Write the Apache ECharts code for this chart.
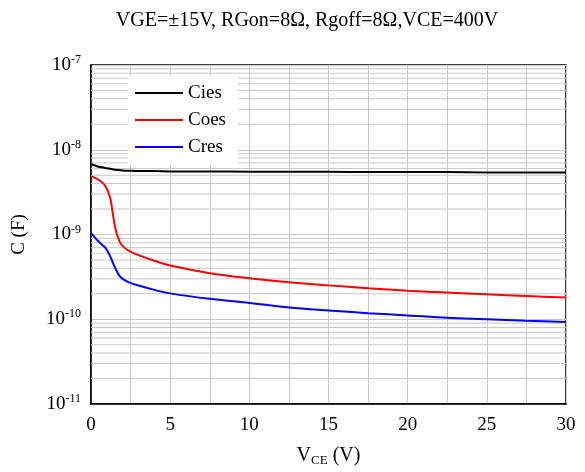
<!DOCTYPE html>
<html>
<head>
  <meta charset="UTF-8">
  <title>Capacitance vs VCE</title>
  <script src="https://cdn.jsdelivr.net/npm/echarts@6/dist/echarts.min.js"></script>
  <style>
    html, body { margin: 0; padding: 0; background: #fff; }
    #chart { width: 585px; height: 472px; }
  </style>
</head>
<body>
  <div id="chart"></div>
  <script>
    // VCE (V) sample points
    const vce = [0, 0.5, 0.9, 1.2, 1.35, 1.55, 1.8, 2.0, 2.4, 3, 4, 5, 7.5, 10, 12.5, 15, 17.5, 20, 22.5, 25, 27.5, 30];
    // capacitances (F)
    const cies = [6.8e-9, 6.3e-9, 6.1e-9, 5.95e-9, 5.9e-9, 5.8e-9, 5.75e-9, 5.7e-9, 5.65e-9, 5.6e-9, 5.6e-9, 5.55e-9,
      5.55e-9, 5.5e-9, 5.5e-9, 5.5e-9, 5.45e-9, 5.45e-9, 5.45e-9, 5.4e-9, 5.4e-9, 5.4e-9];
    const coes = [4.85e-9, 4.4e-9, 3.75e-9, 2.75e-9, 1.9e-9, 1.15e-9, 8.3e-10, 7.3e-10, 6.4e-10, 5.7e-10, 4.9e-10, 4.3e-10,
      3.5e-10, 3.05e-10, 2.73e-10, 2.51e-10, 2.32e-10, 2.17e-10, 2.07e-10, 1.97e-10, 1.88e-10, 1.8e-10];
    const cres = [1.04e-9, 8.2e-10, 7.0e-10, 5.6e-10, 4.8e-10, 3.95e-10, 3.25e-10, 3.0e-10, 2.72e-10, 2.5e-10, 2.22e-10, 2.02e-10,
      1.74e-10, 1.56e-10, 1.38e-10, 1.27e-10, 1.18e-10, 1.11e-10, 1.04e-10, 1.0e-10, 9.6e-11, 9.3e-11];
    // minor grid values inside each decade
    const decades = [-11, -10, -9, -8];
    const minorSteps = [2, 3, 4, 5, 6, 7, 8, 9];

    const font = '"Liberation Serif", "Times New Roman", serif';
    const pairs = arr => vce.map((v, i) => [v, arr[i]]);

    // minor horizontal grid: one broken line series, a segment per value
    const minorGrid = [];
    decades.forEach(d => minorSteps.forEach(k => {
      const v = k * Math.pow(10, d);
      minorGrid.push([0, v], [30, v], [30, '-']);
    }));

    const chart = echarts.init(document.getElementById('chart'));
    chart.setOption({
      animation: false,
      title: {
        text: 'VGE=±15V, RGon=8Ω, Rgoff=8Ω,VCE=400V',
        left: 302, top: 6, textAlign: 'center',
        textStyle: { fontFamily: font, fontSize: 20, fontWeight: 'normal', color: '#000' }
      },
      legend: {
        orient: 'vertical', left: 128, top: 75,
        padding: [8, 12, 8, 7], itemGap: 7,
        backgroundColor: '#fff', z: 10,
        icon: 'rect', itemWidth: 48, itemHeight: 2,
        textStyle: { fontFamily: font, fontSize: 19, lineHeight: 20, color: '#000' },
        data: ['Cies', 'Coes', 'Cres']
      },
      grid: {
        left: 91, right: 19, top: 65, bottom: 64,
        show: true, borderColor: '#000', borderWidth: 1.5
      },
      xAxis: {
        type: 'value', min: 0, max: 30, interval: 2.5,
        name: '{a|V}{s|CE}{a| (V)}', nameLocation: 'middle', nameGap: 40,
        nameTextStyle: {
          rich: {
            a: { fontFamily: font, fontSize: 20, color: '#000' },
            s: { fontFamily: font, fontSize: 13, color: '#000', verticalAlign: 'bottom', padding: [10, 0, 0, 0] }
          }
        },
        axisLine: { lineStyle: { color: '#000', width: 1.5 } },
        axisTick: { show: false },
        axisLabel: {
          margin: 12, fontFamily: font, fontSize: 19, color: '#000',
          formatter: v => (v % 5 === 0 ? String(v) : '')
        },
        splitLine: { lineStyle: { color: '#c8c8c8', width: 1 } }
      },
      yAxis: {
        type: 'log', logBase: 10, min: 1e-11, max: 1e-7,
        name: 'C (F)', nameLocation: 'middle', nameGap: 62,
        nameTextStyle: { fontFamily: font, fontSize: 19, color: '#000' },
        axisLine: { lineStyle: { color: '#000', width: 1.5 } },
        axisTick: { show: false },
        axisLabel: {
          margin: 10,
          formatter: v => '{b|10}{e|' + Math.round(Math.log10(v)) + '}',
          rich: {
            b: { fontFamily: font, fontSize: 19, color: '#000' },
            e: { fontFamily: font, fontSize: 12, color: '#000', verticalAlign: 'top', padding: [0, 0, 10, 0] }
          }
        },
        splitLine: { lineStyle: { color: '#c8c8c8', width: 1 } }
      },
      series: [
        {
          name: 'grid-minor', type: 'line', data: minorGrid, silent: true, z: 1,
          showSymbol: false, connectNulls: false, tooltip: { show: false },
          lineStyle: { color: '#c8c8c8', width: 1 }, itemStyle: { color: '#c8c8c8' }
        },
        {
          name: 'Cies', type: 'line', data: pairs(cies), smooth: 0.3, showSymbol: false, z: 3,
          itemStyle: { color: '#000' }, lineStyle: { color: '#000', width: 2 }
        },
        {
          name: 'Coes', type: 'line', data: pairs(coes), smooth: 0.3, showSymbol: false, z: 3,
          itemStyle: { color: '#ff0000' }, lineStyle: { color: '#ff0000', width: 2 }
        },
        {
          name: 'Cres', type: 'line', data: pairs(cres), smooth: 0.3, showSymbol: false, z: 3,
          itemStyle: { color: '#0000ff' }, lineStyle: { color: '#0000ff', width: 2 }
        }
      ]
    });
  </script>
</body>
</html>
